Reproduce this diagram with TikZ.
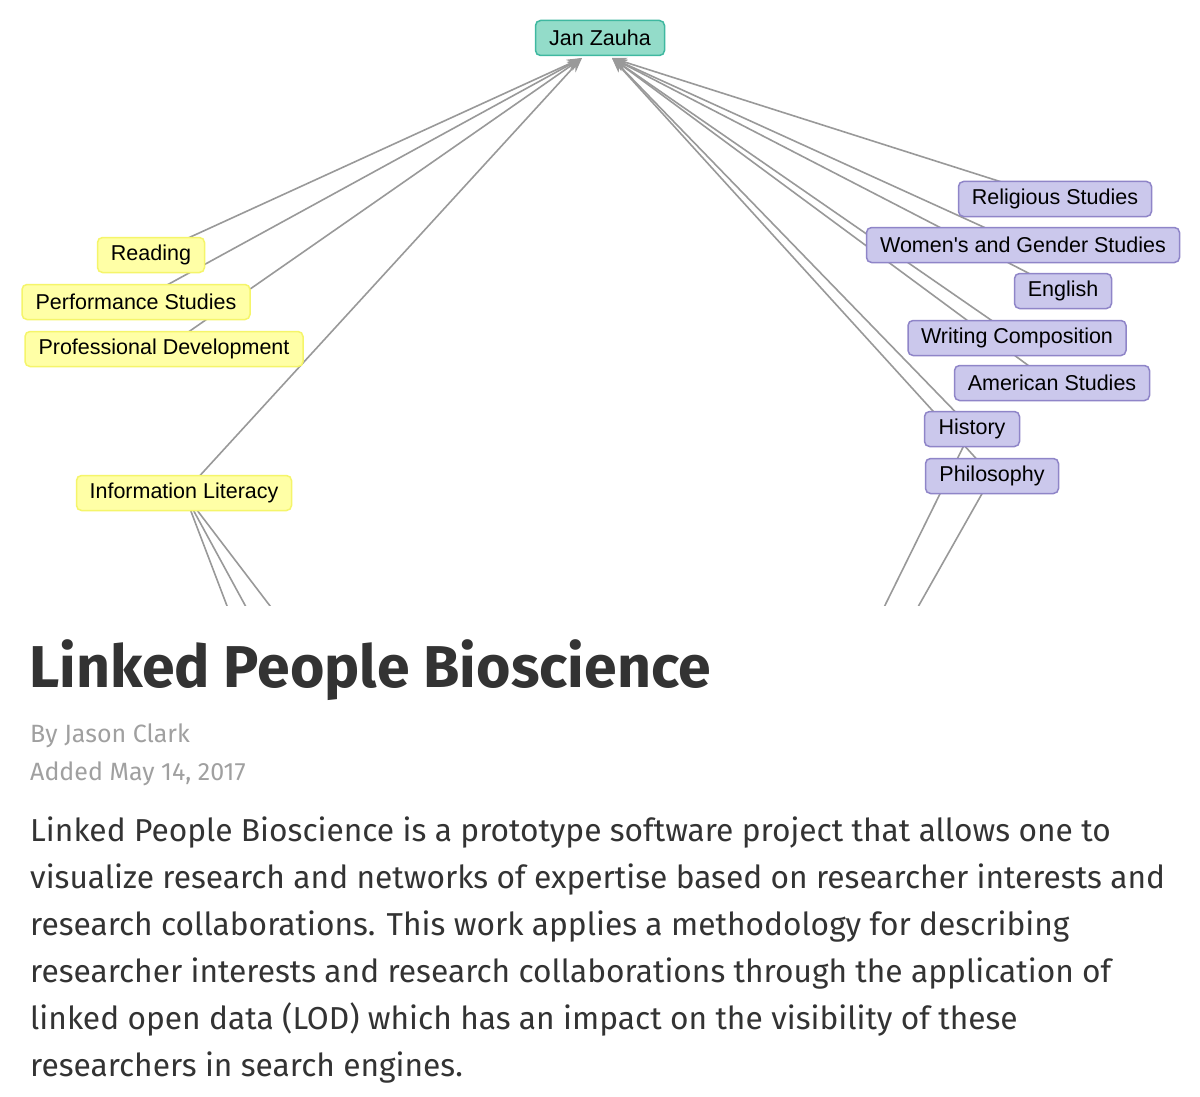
\documentclass[tikz,border=0pt]{standalone}
\usepackage{fontspec}
\setmainfont{Fira Sans}
\newfontfamily\nodefont{Liberation Sans}
\usetikzlibrary{arrows.meta}
\definecolor{edgegray}{HTML}{999999}
\definecolor{yfill}{HTML}{FFFFA6}
\definecolor{ydraw}{HTML}{F5F56A}
\definecolor{pfill}{HTML}{CBC8EC}
\definecolor{pdraw}{HTML}{8F85C8}
\definecolor{tfill}{HTML}{93DCC9}
\definecolor{tdraw}{HTML}{3FB8A0}
\definecolor{txt}{HTML}{333333}
\definecolor{meta}{HTML}{A0A0A0}
\begin{document}
\begin{tikzpicture}[x=1pt,y=-1pt,
  box/.style={rounded corners=5pt,line width=1.5pt,inner sep=0pt,minimum height=35pt,font=\nodefont\fontsize{21.5}{25}\selectfont,text=black},
  ybox/.style={box,fill=yfill,draw=ydraw},
  pbox/.style={box,fill=pfill,draw=pdraw},
  tbox/.style={box,fill=tfill,draw=tdraw},
  edge/.style={draw=edgegray,line width=1.6pt},
  arr/.style={edge,-{Stealth[length=15pt,width=10pt]}},
  para/.style={anchor=base west,inner sep=0pt,text=txt,font=\fontsize{31.7}{36}\selectfont}]
\useasboundingbox (0,0) rectangle (1200,1097);
\fill[white] (0,0) rectangle (1200,1097);
\coordinate (tl) at (582,58);
\coordinate (tr) at (612,58);
\coordinate (h1) at (858,660);
\coordinate (h2) at (888,660);
\coordinate (i1) at (240,640);
\coordinate (i2) at (264,640);
\coordinate (i3) at (296,640);
\begin{scope}
\clip (0,0) rectangle (1200,605);
\coordinate (jr) at (151,255);
\coordinate (jps) at (136,302);
\coordinate (jpd) at (164,349);
\coordinate (jil) at (184,493);
\coordinate (rrs) at (1055,199);
\coordinate (rwg) at (1023,245);
\coordinate (ren) at (1063,291);
\coordinate (rwc) at (1017,338);
\coordinate (ras) at (1052,383);
\coordinate (rhi) at (972,429);
\coordinate (rph) at (992,476);
\foreach \a in {jr,jps,jpd,jil} \draw[arr] (\a) -- (tl);
\foreach \a in {rrs,rwg,ren,rwc,ras,rhi,rph} \draw[arr] (\a) -- (tr);
\draw[edge] (h1) -- (rhi);
\draw[edge] (h2) -- (rph);
\foreach \a in {i1,i2,i3} \draw[edge] (\a) -- (jil);
\node[ybox,minimum width=107pt] (r) at (jr) {Reading};
\node[ybox,minimum width=228pt] (ps) at (jps) {Performance Studies};
\node[ybox,minimum width=278pt] (pd) at (jpd) {Professional Development};
\node[ybox,minimum width=215pt] (il) at (jil) {Information Literacy};
\node[pbox,minimum width=193pt] (rs) at (rrs) {Religious Studies};
\node[pbox,minimum width=313pt] (wg) at (rwg) {Women's and Gender Studies};
\node[pbox,minimum width=97pt] (en) at (ren) {English};
\node[pbox,minimum width=218pt] (wc) at (rwc) {Writing Composition};
\node[pbox,minimum width=195pt] (as) at (ras) {American Studies};
\node[pbox,minimum width=95pt] (hi) at (rhi) {History};
\node[pbox,minimum width=133pt] (ph) at (rph) {Philosophy};
\node[tbox,minimum width=129pt] (jan) at (600,38) {Jan Zauha};
\end{scope}
\node[anchor=base west,inner sep=0pt,text=txt,font=\fontsize{59}{66}\selectfont\bfseries] (title) at (29,687) {Linked People Bioscience};
\node[anchor=base west,inner sep=0pt,text=meta,font=\fontsize{25}{29}\selectfont] (by) at (30,742) {By Jason Clark};
\node[anchor=base west,inner sep=0pt,text=meta,font=\fontsize{25}{29}\selectfont] (added) at (30,780) {Added May 14, 2017};
\node[para] (p1) at (30,841) {Linked People Bioscience is a prototype software project that allows one to};
\node[para] (p2) at (30,888) {visualize research and networks of expertise based on researcher interests and};
\node[para] (p3) at (30,935) {research collaborations. This work applies a methodology for describing};
\node[para] (p4) at (30,982) {researcher interests and research collaborations through the application of};
\node[para] (p5) at (30,1029) {linked open data (LOD) which has an impact on the visibility of these};
\node[para] (p6) at (30,1076) {researchers in search engines.};
\end{tikzpicture}
\end{document}
